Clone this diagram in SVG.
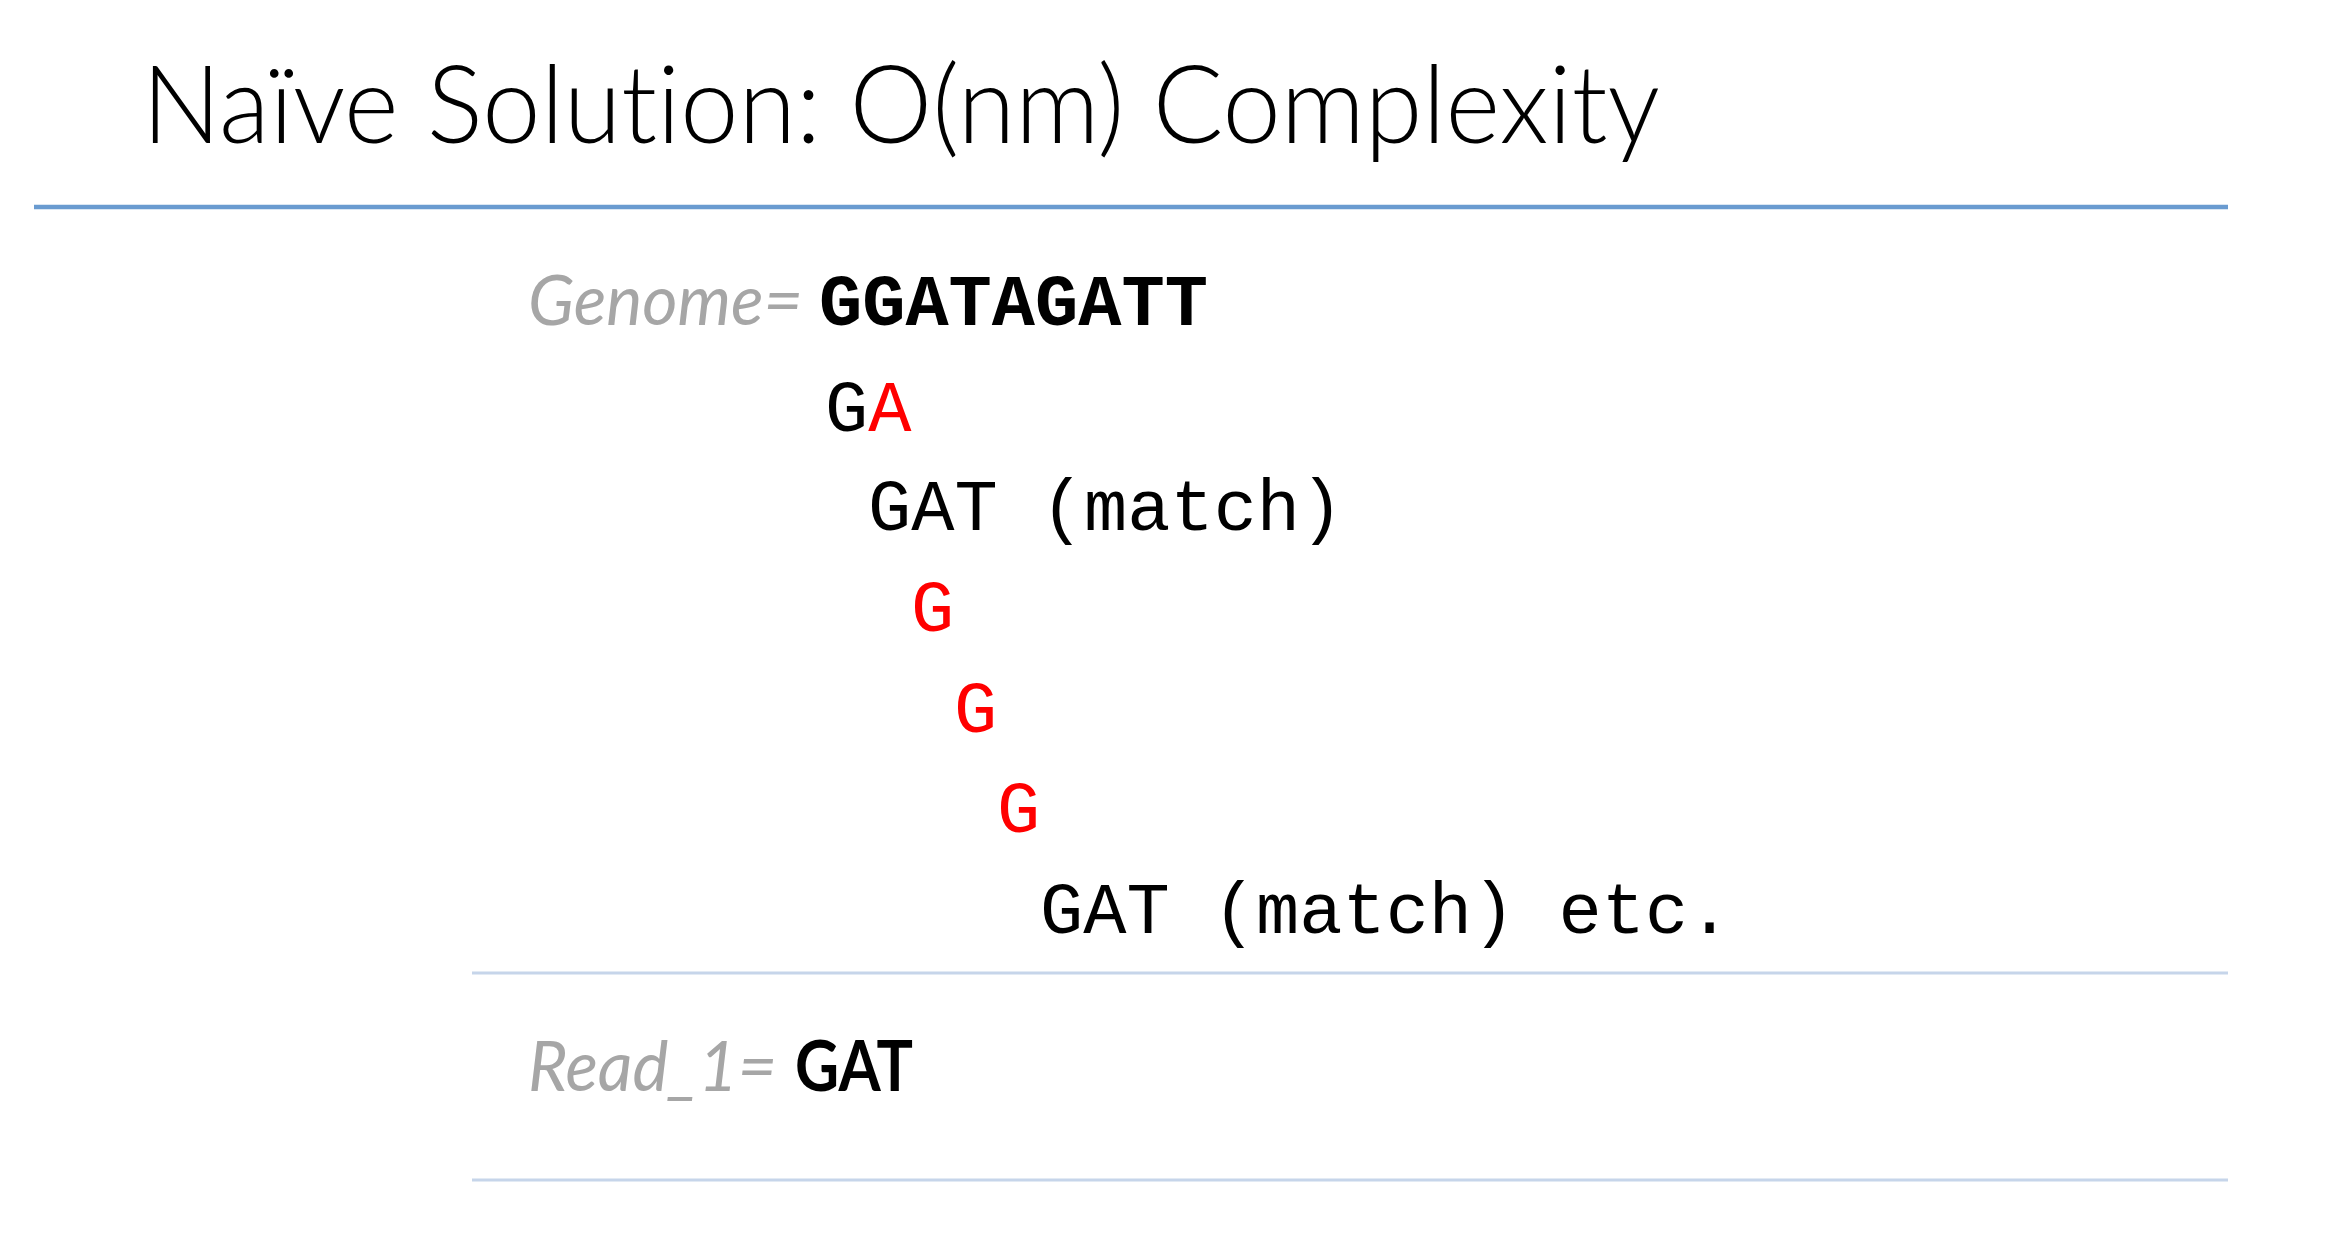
<svg xmlns="http://www.w3.org/2000/svg" width="2342" height="1246" viewBox="0 0 2342 1246">
<style>
text{font-variant-ligatures:none}
.title{font-family:Lato,"Open Sans","Liberation Sans",sans-serif;font-weight:300;font-size:108px;fill:#000}
.lbl{font-family:Lato,"Open Sans","Liberation Sans",sans-serif;font-style:italic;font-size:70px;fill:#A6A6A6}
.mono{font-family:"Liberation Mono","Courier New",monospace;font-size:72px;fill:#000}
.monob{font-family:"Liberation Mono","Courier New",monospace;font-size:72px;font-weight:bold;fill:#000}
.red{fill:#FF0000}
.bold{font-family:Lato,"Open Sans","Liberation Sans",sans-serif;font-weight:bold;font-size:70px;fill:#000}
.rule-main{stroke:#6A9BD0;stroke-width:4.5}
.rule{stroke:#C6D5EA;stroke-width:3}
</style>
<rect width="2342" height="1246" fill="#FFFFFF"/>
<g id="title">
<text class="title" x="142" y="143" textLength="1518" lengthAdjust="spacingAndGlyphs">Naïve Solution: O(nm) Complexity</text>
</g>
<g id="connectors">
<line class="rule-main" x1="34" y1="207" x2="2228" y2="207"/>
<line class="rule" x1="472" y1="973" x2="2228" y2="973"/>
<line class="rule" x1="472" y1="1180" x2="2228" y2="1180"/>
</g>
<g id="genome">
<text class="lbl" x="528" y="325" textLength="275" lengthAdjust="spacingAndGlyphs">Genome=</text>
<text class="monob" x="819" y="325">GGATAGATT</text>
</g>
<g id="row1"><text class="mono" x="825" y="431">G<tspan class="red">A</tspan></text></g>
<g id="row2"><text class="mono" x="868" y="530">GAT (match)</text></g>
<g id="row3"><text class="mono red" x="911" y="631">G</text></g>
<g id="row4"><text class="mono red" x="954" y="732">G</text></g>
<g id="row5"><text class="mono red" x="997" y="832">G</text></g>
<g id="row6"><text class="mono" x="1040" y="933">GAT (match) etc.</text></g>
<g id="read">
<text class="lbl" x="528" y="1091" textLength="249" lengthAdjust="spacingAndGlyphs">Read_1=</text>
<text class="bold" x="795" y="1091" textLength="118" lengthAdjust="spacingAndGlyphs">GAT</text>
</g>
</svg>
